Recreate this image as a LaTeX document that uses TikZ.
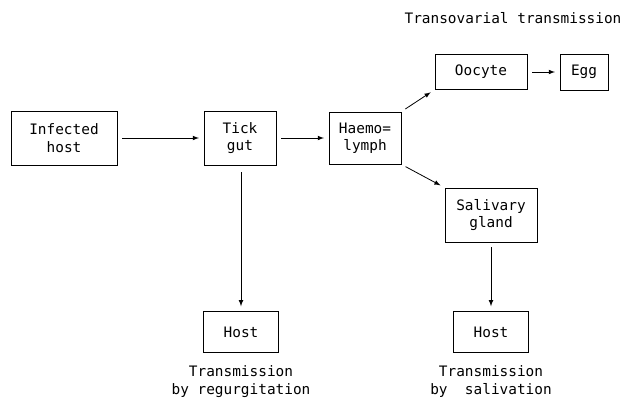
\documentclass[tikz,border=0pt]{standalone}
\usepackage{fontspec}
\setmonofont{DejaVu Sans Mono}
\usepackage{tikz}
\usetikzlibrary{positioning}

\begin{document}
\begin{tikzpicture}[x = 0.75pt, y = -0.75pt,
        every node/.style = {font = \ttfamily\fontsize{10.8}{13}\selectfont, align = center},
        box/.style = {draw = black, line width = 0.6pt, inner sep = 0pt},
        flow/.style = {line width = 0.6pt, -{latex}, shorten < = 3.5pt, shorten > = 3.5pt}]
        \useasboundingbox (0, 0) rectangle (624, 404);

        \node [box, minimum width = 79.5pt, minimum height = 40.5pt] (infected) at (64, 138) {Infected\\host};
        \node [box, minimum width = 54pt, minimum height = 40.5pt] (gut) at (240, 138) {Tick\\gut};
        \node [box, minimum width = 54pt, minimum height = 39pt] (haemo) at (365, 138) {Haemo=\\lymph};
        \node [box, minimum width = 69pt, minimum height = 26pt] (oocyte) at (481, 72) {Oocyte};
        \node [box, minimum width = 36pt, minimum height = 27pt] (egg) at (584, 72) {Egg};
        \node [box, minimum width = 69pt, minimum height = 40.5pt] (gland) at (491, 215) {Salivary\\gland};
        \node [box, minimum width = 56pt, minimum height = 31pt] (hostL) at (241, 332) {Host};
        \node [box, minimum width = 56pt, minimum height = 31pt] (hostR) at (491, 332) {Host};

        \node (transov) at (513, 18) {Transovarial transmission};
        \node [below = 6pt of hostL] (regurg) {Transmission\\by regurgitation};
        \node [below = 6pt of hostR] (saliv) {Transmission\\by\ \ salivation};

        \draw [flow] (infected) -- (gut);
        \draw [flow] (gut) -- (haemo);
        \draw [flow] (haemo.north east) -- (oocyte.south west);
        \draw [flow] (haemo.south east) -- (gland.north west);
        \draw [flow] (oocyte) -- (egg);
        \draw [flow, shorten < = 5pt] (gut.south -| hostL.north) -- (hostL.north);
        \draw [flow] (gland) -- (hostR);
    \end{tikzpicture}
\end{document}
